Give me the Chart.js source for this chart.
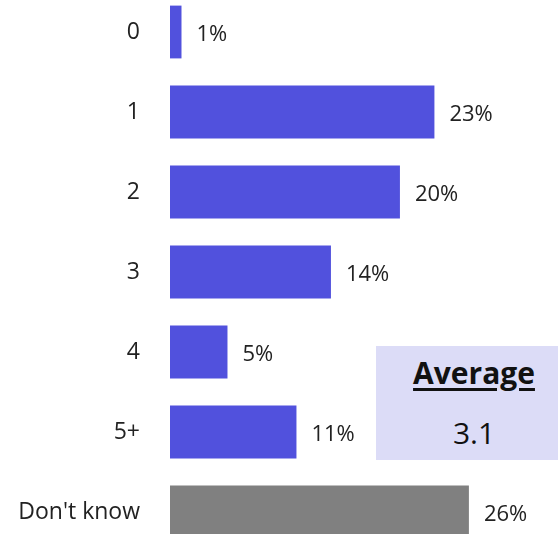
<!DOCTYPE html>
<html>
<head>
<meta charset="utf-8">
<script src="https://cdn.jsdelivr.net/npm/chart.js@4"></script>
<style>
    html, body { margin: 0; padding: 0; background: #fff; overflow: hidden; }
    body { width: 558px; height: 534px; position: relative; font-family: 'Open Sans', sans-serif; }
    #chart { position: absolute; left: 0; top: -8px; }
    #avg {
        position: absolute; left: 376px; top: 346px; width: 196px; height: 114px;
        background: #dcdcf7; color: #111;
    }
    #avg .title {
        position: absolute; left: 0; right: 0; top: 6px; text-align: center;
        font-weight: 700; font-size: 30px; text-decoration: underline; text-underline-offset: 4px;
    }
    #avg .val { position: absolute; left: 0; right: 0; top: 66px; text-align: center; font-size: 30px; }
</style>
</head>
<body>
<canvas id="chart" width="558" height="560"></canvas>
<div id="avg"><div class="title">Average</div><div class="val">3.1</div></div>
<script>
    const categories = ['0', '1', '2', '3', '4', '5+', "Don't know"];
    const percentages = [1, 23, 20, 14, 5, 11, 26];
    const barColors = ['#5151dd', '#5151dd', '#5151dd', '#5151dd', '#5151dd', '#5151dd', '#808080'];

    // Value labels to the right of each bar
    const valueLabels = {
        id: 'valueLabels',
        afterDatasetsDraw(chart) {
            const ctx = chart.ctx;
            const meta = chart.getDatasetMeta(0);
            ctx.save();
            ctx.font = '22px "Open Sans", sans-serif';
            ctx.fillStyle = '#222';
            ctx.textAlign = 'left';
            ctx.textBaseline = 'middle';
            meta.data.forEach((bar, i) => {
                ctx.fillText(percentages[i] + '%', bar.x + 15, bar.y + 3);
            });
            ctx.restore();
        },
    };

    const data = {
        labels: categories,
        datasets: [
            {
                data: percentages,
                backgroundColor: barColors,
                categoryPercentage: 0.66,
                barPercentage: 1,
            },
        ],
    };

    const config = {
        type: 'bar',
        data: data,
        options: {
            indexAxis: 'y',
            responsive: false,
            animation: false,
            layout: { padding: 0 },
            plugins: {
                legend: { display: false },
                tooltip: { enabled: false },
            },
            scales: {
                x: {
                    display: false,
                    min: 0,
                    max: 33.75,
                },
                y: {
                    grid: { display: false, drawTicks: false },
                    border: { display: false },
                    ticks: {
                        color: '#222',
                        padding: 30,
                        font: { family: 'Open Sans', size: 23 },
                    },
                    afterFit: (scale) => {
                        scale.width = 170;
                        scale.paddingTop = 0;
                        scale.paddingBottom = 0;
                    },
                },
            },
        },
        plugins: [valueLabels],
    };

    new Chart(document.getElementById('chart'), config);
</script>
</body>
</html>
